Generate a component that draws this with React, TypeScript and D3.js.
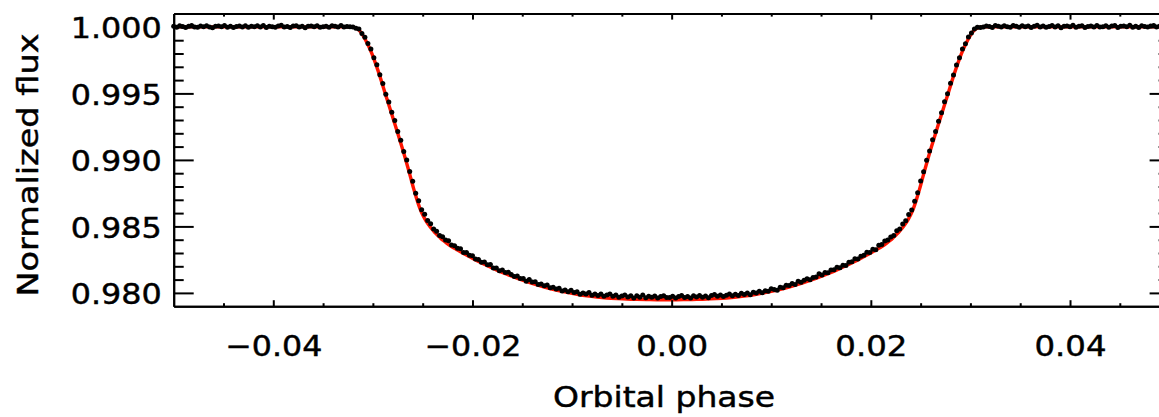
import React, { useEffect, useRef } from 'react';
import * as d3 from 'd3';

// binned light curve
const phase = [
  -0.0500, -0.0497, -0.0494, -0.0491, -0.0488, -0.0485, -0.0482, -0.0479, -0.0476, -0.0473,
  -0.0470, -0.0467, -0.0464, -0.0461, -0.0458, -0.0455, -0.0452, -0.0449, -0.0446, -0.0443,
  -0.0440, -0.0437, -0.0434, -0.0431, -0.0428, -0.0425, -0.0422, -0.0419, -0.0416, -0.0413,
  -0.0410, -0.0407, -0.0404, -0.0401, -0.0398, -0.0395, -0.0392, -0.0389, -0.0386, -0.0383,
  -0.0380, -0.0377, -0.0374, -0.0371, -0.0368, -0.0365, -0.0362, -0.0359, -0.0356, -0.0353,
  -0.0350, -0.0347, -0.0344, -0.0341, -0.0338, -0.0335, -0.0332, -0.0329, -0.0326, -0.0323,
  -0.0320, -0.0317, -0.0314, -0.0311, -0.0308, -0.0305, -0.0302, -0.0299, -0.0296, -0.0293,
  -0.0290, -0.0287, -0.0284, -0.0281, -0.0278, -0.0275, -0.0272, -0.0269, -0.0266, -0.0263,
  -0.0260, -0.0257, -0.0254, -0.0251, -0.0248, -0.0245, -0.0242, -0.0239, -0.0236, -0.0233,
  -0.0230, -0.0227, -0.0224, -0.0221, -0.0218, -0.0215, -0.0212, -0.0209, -0.0206, -0.0203,
  -0.0200, -0.0197, -0.0194, -0.0191, -0.0188, -0.0185, -0.0182, -0.0179, -0.0176, -0.0173,
  -0.0170, -0.0167, -0.0164, -0.0161, -0.0158, -0.0155, -0.0152, -0.0149, -0.0146, -0.0143,
  -0.0140, -0.0137, -0.0134, -0.0131, -0.0128, -0.0125, -0.0122, -0.0119, -0.0116, -0.0113,
  -0.0110, -0.0107, -0.0104, -0.0101, -0.0098, -0.0095, -0.0092, -0.0089, -0.0086, -0.0083,
  -0.0080, -0.0077, -0.0074, -0.0071, -0.0068, -0.0065, -0.0062, -0.0059, -0.0056, -0.0053,
  -0.0050, -0.0047, -0.0044, -0.0041, -0.0038, -0.0035, -0.0032, -0.0029, -0.0026, -0.0023,
  -0.0020, -0.0017, -0.0014, -0.0011, -0.0008, -0.0005, -0.0002, 0.0001, 0.0004, 0.0007,
  0.0010, 0.0013, 0.0016, 0.0019, 0.0022, 0.0025, 0.0028, 0.0031, 0.0034, 0.0037,
  0.0040, 0.0043, 0.0046, 0.0049, 0.0052, 0.0055, 0.0058, 0.0061, 0.0064, 0.0067,
  0.0070, 0.0073, 0.0076, 0.0079, 0.0082, 0.0085, 0.0088, 0.0091, 0.0094, 0.0097,
  0.0100, 0.0103, 0.0106, 0.0109, 0.0112, 0.0115, 0.0118, 0.0121, 0.0124, 0.0127,
  0.0130, 0.0133, 0.0136, 0.0139, 0.0142, 0.0145, 0.0148, 0.0151, 0.0154, 0.0157,
  0.0160, 0.0163, 0.0166, 0.0169, 0.0172, 0.0175, 0.0178, 0.0181, 0.0184, 0.0187,
  0.0190, 0.0193, 0.0196, 0.0199, 0.0202, 0.0205, 0.0208, 0.0211, 0.0214, 0.0217,
  0.0220, 0.0223, 0.0226, 0.0229, 0.0232, 0.0235, 0.0238, 0.0241, 0.0244, 0.0247,
  0.0250, 0.0253, 0.0256, 0.0259, 0.0262, 0.0265, 0.0268, 0.0271, 0.0274, 0.0277,
  0.0280, 0.0283, 0.0286, 0.0289, 0.0292, 0.0295, 0.0298, 0.0301, 0.0304, 0.0307,
  0.0310, 0.0313, 0.0316, 0.0319, 0.0322, 0.0325, 0.0328, 0.0331, 0.0334, 0.0337,
  0.0340, 0.0343, 0.0346, 0.0349, 0.0352, 0.0355, 0.0358, 0.0361, 0.0364, 0.0367,
  0.0370, 0.0373, 0.0376, 0.0379, 0.0382, 0.0385, 0.0388, 0.0391, 0.0394, 0.0397,
  0.0400, 0.0403, 0.0406, 0.0409, 0.0412, 0.0415, 0.0418, 0.0421, 0.0424, 0.0427,
  0.0430, 0.0433, 0.0436, 0.0439, 0.0442, 0.0445, 0.0448, 0.0451, 0.0454, 0.0457,
  0.0460, 0.0463, 0.0466, 0.0469, 0.0472, 0.0475, 0.0478, 0.0481, 0.0484, 0.0487,
  0.0490, 0.0493, 0.0496, 0.0499,
];

const flux = [
  1.00005, 0.99998, 1.00008, 1.00003, 0.99995, 1.00004, 1.00010, 1.00000, 0.99997, 1.00006,
  1.00002, 1.00009, 0.99999, 0.99994, 1.00004, 1.00007, 1.00001, 1.00011, 0.99998, 1.00005,
  0.99996, 1.00003, 1.00006, 1.00000, 1.00009, 0.99997, 1.00004, 1.00001, 1.00008, 0.99999,
  1.00010, 0.99996, 1.00005, 1.00002, 0.99998, 1.00007, 1.00012, 1.00000, 1.00003, 0.99995,
  1.00006, 1.00008, 0.99999, 1.00004, 0.99993, 1.00005, 1.00007, 1.00001, 1.00009, 0.99998,
  1.00002, 1.00005, 0.99997, 1.00008, 1.00004, 1.00000, 1.00010, 0.99999, 1.00003, 1.00001,
  0.99999, 0.99989, 0.99984, 0.99951, 0.99923, 0.99875, 0.99834, 0.99768, 0.99715, 0.99640,
  0.99574, 0.99494, 0.99436, 0.99359, 0.99296, 0.99214, 0.99147, 0.99064, 0.99000, 0.98913,
  0.98840, 0.98750, 0.98692, 0.98626, 0.98592, 0.98544, 0.98520, 0.98481, 0.98464, 0.98431,
  0.98423, 0.98397, 0.98392, 0.98361, 0.98355, 0.98335, 0.98332, 0.98303, 0.98303, 0.98283,
  0.98280, 0.98255, 0.98252, 0.98231, 0.98232, 0.98212, 0.98214, 0.98188, 0.98187, 0.98167,
  0.98172, 0.98154, 0.98156, 0.98138, 0.98123, 0.98128, 0.98108, 0.98108, 0.98088, 0.98100,
  0.98082, 0.98083, 0.98064, 0.98067, 0.98054, 0.98060, 0.98038, 0.98042, 0.98030, 0.98035,
  0.98014, 0.98021, 0.98008, 0.98020, 0.98003, 0.98008, 0.97990, 0.98000, 0.97991, 0.98003,
  0.97983, 0.97992, 0.97981, 0.97991, 0.97975, 0.97984, 0.97991, 0.97974, 0.97984, 0.97968,
  0.97977, 0.97984, 0.97970, 0.97978, 0.97962, 0.97979, 0.97968, 0.97984, 0.97964, 0.97974,
  0.97968, 0.97977, 0.97962, 0.97972, 0.97979, 0.97965, 0.97966, 0.97975, 0.97961, 0.97973,
  0.97981, 0.97965, 0.97972, 0.97962, 0.97978, 0.97970, 0.97981, 0.97967, 0.97977, 0.97964,
  0.97980, 0.97988, 0.97974, 0.97985, 0.97972, 0.97983, 0.97991, 0.97978, 0.97989, 0.97980,
  0.97997, 0.97988, 0.97999, 0.97986, 0.98004, 0.98000, 0.98013, 0.98002, 0.98016, 0.98013,
  0.98031, 0.98025, 0.98020, 0.98042, 0.98038, 0.98058, 0.98056, 0.98070, 0.98063, 0.98088,
  0.98081, 0.98095, 0.98107, 0.98099, 0.98115, 0.98119, 0.98144, 0.98135, 0.98153, 0.98151,
  0.98173, 0.98174, 0.98193, 0.98190, 0.98207, 0.98206, 0.98231, 0.98235, 0.98256, 0.98254,
  0.98276, 0.98283, 0.98305, 0.98304, 0.98328, 0.98325, 0.98358, 0.98363, 0.98391, 0.98397,
  0.98420, 0.98432, 0.98467, 0.98481, 0.98518, 0.98543, 0.98589, 0.98624, 0.98690, 0.98753,
  0.98842, 0.98911, 0.98998, 0.99066, 0.99151, 0.99214, 0.99291, 0.99355, 0.99437, 0.99498,
  0.99576, 0.99638, 0.99713, 0.99768, 0.99834, 0.99874, 0.99925, 0.99954, 0.99984, 0.99998,
  0.99996, 1.00000, 1.00007, 1.00003, 0.99996, 1.00010, 1.00005, 0.99999, 1.00008, 1.00002,
  0.99997, 1.00011, 1.00004, 0.99998, 1.00009, 1.00001, 1.00006, 0.99995, 1.00005, 1.00012,
  1.00000, 1.00007, 0.99997, 1.00003, 1.00010, 0.99999, 1.00008, 0.99994, 1.00004, 1.00006,
  1.00001, 1.00013, 0.99998, 1.00005, 1.00009, 0.99996, 1.00003, 1.00007, 1.00000, 1.00011,
  0.99999, 1.00002, 1.00008, 0.99997, 1.00006, 1.00010, 0.99995, 1.00004, 1.00007, 1.00001,
  1.00012, 0.99998, 1.00005, 0.99996, 1.00009, 1.00003, 0.99999, 1.00007, 1.00011, 1.00000,
  1.00006, 0.99997, 1.00004, 1.00008,
];

// transit model (red curve)
const modelPhase = [
  -0.0500, -0.0322, -0.0319, -0.0316, -0.0313, -0.0310, -0.0307, -0.0304, -0.0301, -0.0298,
  -0.0295, -0.0286, -0.0277, -0.0268, -0.0265, -0.0262, -0.0259, -0.0256, -0.0253, -0.0250,
  -0.0247, -0.0244, -0.0241, -0.0238, -0.0235, -0.0232, -0.0229, -0.0226, -0.0221, -0.0216,
  -0.0206, -0.0196, -0.0186, -0.0176, -0.0166, -0.0156, -0.0146, -0.0136, -0.0126, -0.0115,
  -0.0105, -0.0095, -0.0085, -0.0075, -0.0065, -0.0055, -0.0045, -0.0035, -0.0025, -0.0015,
  -0.0005, 0.0005, 0.0015, 0.0025, 0.0035, 0.0045, 0.0055, 0.0065, 0.0075, 0.0085,
  0.0095, 0.0105, 0.0116, 0.0126, 0.0136, 0.0146, 0.0156, 0.0166, 0.0176, 0.0186,
  0.0196, 0.0206, 0.0211, 0.0216, 0.0219, 0.0222, 0.0225, 0.0228, 0.0231, 0.0234,
  0.0237, 0.0240, 0.0243, 0.0246, 0.0249, 0.0252, 0.0255, 0.0258, 0.0267, 0.0276,
  0.0285, 0.0288, 0.0291, 0.0294, 0.0297, 0.0300, 0.0303, 0.0306, 0.0309, 0.0312,
  0.0500,
];
const modelFlux = [
  1.00000, 1.00000, 0.99996, 0.99987, 0.99969, 0.99937, 0.99896, 0.99851, 0.99799, 0.99739,
  0.99675, 0.99461, 0.99247, 0.99026, 0.98947, 0.98865, 0.98782, 0.98707, 0.98640, 0.98587,
  0.98546, 0.98512, 0.98482, 0.98456, 0.98434, 0.98411, 0.98392, 0.98375, 0.98349, 0.98327,
  0.98284, 0.98244, 0.98208, 0.98173, 0.98142, 0.98112, 0.98086, 0.98062, 0.98040, 0.98020,
  0.98004, 0.97990, 0.97978, 0.97969, 0.97962, 0.97957, 0.97953, 0.97951, 0.97950, 0.97949,
  0.97949, 0.97949, 0.97950, 0.97951, 0.97953, 0.97957, 0.97962, 0.97969, 0.97978, 0.97990,
  0.98004, 0.98020, 0.98040, 0.98062, 0.98086, 0.98112, 0.98142, 0.98173, 0.98208, 0.98244,
  0.98284, 0.98327, 0.98349, 0.98375, 0.98392, 0.98411, 0.98434, 0.98456, 0.98482, 0.98512,
  0.98546, 0.98587, 0.98640, 0.98707, 0.98782, 0.98865, 0.98947, 0.99026, 0.99247, 0.99461,
  0.99675, 0.99739, 0.99799, 0.99851, 0.99896, 0.99937, 0.99969, 0.99987, 0.99996, 1.00000,
  1.00000,
];

const xMajorTicks = [-0.04, -0.02, 0.0, 0.02, 0.04];
const xMinorTicks = [
  -0.045, -0.035, -0.03, -0.025, -0.015, -0.01, -0.005,
  0.005, 0.01, 0.015, 0.025, 0.03, 0.035, 0.045,
];
const yMajorTicks = [0.980, 0.985, 0.990, 0.995, 1.000];
const yMinorTicks = [
  0.981, 0.982, 0.983, 0.984, 0.986, 0.987, 0.988, 0.989,
  0.991, 0.992, 0.993, 0.994, 0.996, 0.997, 0.998, 0.999,
];

const xTitle = 'Orbital phase';
const yTitle = 'Normalized flux';

function LightCurve() {
  const svgRef = useRef<SVGSVGElement>(null);

  useEffect(() => {
    if (!svgRef.current) return;
    const svg = d3.select(svgRef.current);
    svg.selectAll('*').remove();

    const margin = { top: 13.6, left: 173.7 };
    const width = 995.9;
    const height = 292.6;
    const font = '"DejaVu Sans", sans-serif';

    const x = d3.scaleLinear().domain([-0.05, 0.05]).range([0, width]);
    const y = d3.scaleLinear().domain([0.979, 1.001]).range([height, 0]);

    const g = svg.append('g').attr('transform', `translate(${margin.left},${margin.top})`);

    // model first, data points on top
    const line = d3
      .line<number>()
      .x((d, i) => x(modelPhase[i]))
      .y((d) => y(d))
      .curve(d3.curveMonotoneX);

    g.append('path')
      .datum(modelFlux)
      .attr('d', line)
      .attr('fill', 'none')
      .attr('stroke', '#ff1400')
      .attr('stroke-width', 3.4);

    g.selectAll('circle')
      .data(flux)
      .join('circle')
      .attr('cx', (d, i) => x(phase[i]))
      .attr('cy', (d) => y(d))
      .attr('r', 2.5)
      .attr('fill', '#000');

    const blank = () => '';
    const thick = (sel: any) => {
      sel.select('.domain').attr('stroke', '#000').attr('stroke-width', 2);
      sel.selectAll('.tick line').attr('stroke', '#000').attr('stroke-width', 2);
    };
    // slightly heavier glyphs, like the original plot font
    const ink = (sel: any) =>
      sel.attr('fill', '#000').attr('stroke', '#000').attr('stroke-width', 0.45)
        .attr('lengthAdjust', 'spacingAndGlyphs');

    // bottom axis with labels
    const bottom = g
      .append('g')
      .attr('transform', `translate(0,${height})`)
      .call(
        d3.axisBottom(x).tickValues(xMajorTicks).tickSizeInner(-6).tickSizeOuter(0)
          .tickFormat(d3.format('.2f') as any)
      );
    bottom.call(thick);
    bottom.attr('font-size', 29).attr('font-family', font);
    bottom
      .selectAll('.tick text')
      .attr('y', 50)
      .attr('dy', null)
      .attr('textLength', (d: any) => (d < 0 ? 97 : 72))
      .call(ink);

    g.append('g')
      .attr('transform', `translate(0,${height})`)
      .call(d3.axisBottom(x).tickValues(xMinorTicks).tickSizeInner(-3).tickSizeOuter(0).tickFormat(blank))
      .call(thick);

    // top axis
    g.append('g')
      .call(d3.axisTop(x).tickValues(xMajorTicks).tickSizeInner(-6).tickSizeOuter(0).tickFormat(blank))
      .call(thick);
    g.append('g')
      .call(d3.axisTop(x).tickValues(xMinorTicks).tickSizeInner(-3).tickSizeOuter(0).tickFormat(blank))
      .call(thick);

    // left axis with labels
    const left = g
      .append('g')
      .call(
        d3.axisLeft(y).tickValues(yMajorTicks).tickSizeInner(-20).tickSizeOuter(0).tickPadding(12)
          .tickFormat(d3.format('.3f') as any)
      );
    left.call(thick);
    left.attr('font-size', 29).attr('font-family', font);
    left
      .selectAll('.tick text')
      .attr('dy', '0.37em')
      .attr('textLength', 91)
      .call(ink);

    g.append('g')
      .call(d3.axisLeft(y).tickValues(yMinorTicks).tickSizeInner(-10).tickSizeOuter(0).tickFormat(blank))
      .call(thick);

    // right axis (mostly past the edge of the frame)
    g.append('g')
      .attr('transform', `translate(${width},0)`)
      .call(d3.axisRight(y).tickValues(yMajorTicks).tickSizeInner(-20).tickSizeOuter(0).tickFormat(blank))
      .call(thick);
    g.append('g')
      .attr('transform', `translate(${width},0)`)
      .call(d3.axisRight(y).tickValues(yMinorTicks).tickSizeInner(-11).tickSizeOuter(0).tickFormat(blank))
      .call(thick);

    // axis titles
    svg.append('text')
      .attr('x', 664)
      .attr('y', 407)
      .attr('text-anchor', 'middle')
      .attr('font-family', font)
      .attr('font-size', 29)
      .attr('textLength', 222)
      .call(ink)
      .text(xTitle);

    svg.append('text')
      .attr('transform', 'translate(38,165) rotate(-90)')
      .attr('text-anchor', 'middle')
      .attr('font-family', font)
      .attr('font-size', 29)
      .attr('textLength', 263)
      .call(ink)
      .text(yTitle);
  }, []);

  return (
    <svg
      ref={svgRef}
      width={1159}
      height={417}
      style={{ position: 'absolute', left: 0, top: 0, background: '#fff' }}
    />
  );
}

export default function App() {
  return <LightCurve />;
}
